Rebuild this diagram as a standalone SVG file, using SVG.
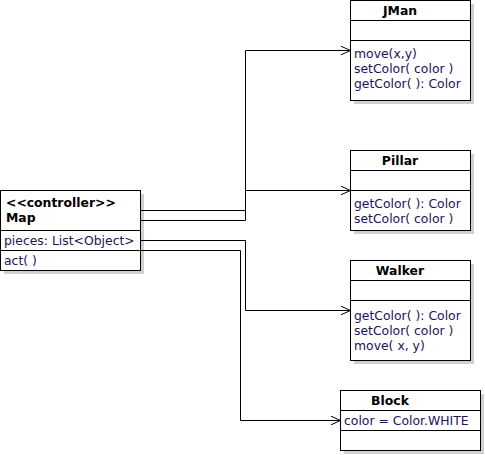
<svg xmlns="http://www.w3.org/2000/svg" width="485" height="455" viewBox="0 0 485 455">
<defs>
<marker id="arr" markerWidth="12" markerHeight="12" refX="10" refY="5" orient="auto" markerUnits="userSpaceOnUse">
<path d="M0,0.5 L10,5 L0,9.5" fill="none" stroke="#000" stroke-width="1"/>
</marker>
</defs>
<style>
.box{fill:#fff;stroke:#000;stroke-width:1}
.sh{fill:#d0d0d0}
.ln{stroke:#000;stroke-width:1}
.t{font-family:"DejaVu Sans",sans-serif;font-size:12.4px;fill:#22125a}
.b{font-family:"DejaVu Sans",sans-serif;font-size:12.4px;font-weight:bold;fill:#000}
.c{fill:none;stroke:#000;stroke-width:1}
</style>
<rect width="485" height="455" fill="#fff"/>
<g id="Map">
<rect class="sh" x="4" y="194" width="140" height="80"/>
<rect class="box" x="0.5" y="190.5" width="140" height="80"/>
<line class="ln" x1="0.5" y1="230.5" x2="140.5" y2="230.5"/>
<line class="ln" x1="0.5" y1="250.5" x2="140.5" y2="250.5"/>
<text class="b" x="6" y="207">&lt;&lt;controller&gt;&gt;</text>
<text class="b" x="6" y="222">Map</text>
<text class="t" x="4" y="245">pieces: List&lt;Object&gt;</text>
<text class="t" x="4" y="265">act( )</text>
</g>
<g id="JMan">
<rect class="sh" x="354" y="4" width="120" height="100"/>
<rect class="box" x="350.5" y="0.5" width="120" height="100"/>
<line class="ln" x1="350.5" y1="20.5" x2="470.5" y2="20.5"/>
<line class="ln" x1="350.5" y1="40.5" x2="470.5" y2="40.5"/>
<text class="b" x="400" y="15" text-anchor="middle">JMan</text>
<text class="t" x="354" y="58">move(x,y)</text>
<text class="t" x="354" y="73">setColor( color )</text>
<text class="t" x="354" y="88">getColor( ): Color</text>
</g>
<g id="Pillar">
<rect class="sh" x="354" y="154" width="120" height="80"/>
<rect class="box" x="350.5" y="150.5" width="120" height="80"/>
<line class="ln" x1="350.5" y1="170.5" x2="470.5" y2="170.5"/>
<line class="ln" x1="350.5" y1="190.5" x2="470.5" y2="190.5"/>
<text class="b" x="400" y="165" text-anchor="middle">Pillar</text>
<text class="t" x="354" y="208">getColor( ): Color</text>
<text class="t" x="354" y="223">setColor( color )</text>
</g>
<g id="Walker">
<rect class="sh" x="354" y="264" width="120" height="100"/>
<rect class="box" x="350.5" y="260.5" width="120" height="100"/>
<line class="ln" x1="350.5" y1="280.5" x2="470.5" y2="280.5"/>
<line class="ln" x1="350.5" y1="300.5" x2="470.5" y2="300.5"/>
<text class="b" x="400" y="275" text-anchor="middle">Walker</text>
<text class="t" x="354" y="320">getColor( ): Color</text>
<text class="t" x="354" y="335">setColor( color )</text>
<text class="t" x="354" y="350">move( x, y)</text>
</g>
<g id="Block">
<rect class="sh" x="344" y="394" width="140" height="60"/>
<rect class="box" x="340.5" y="390.5" width="140" height="60"/>
<line class="ln" x1="340.5" y1="410.5" x2="480.5" y2="410.5"/>
<line class="ln" x1="340.5" y1="430.5" x2="480.5" y2="430.5"/>
<text class="b" x="390" y="405" text-anchor="middle">Block</text>
<text class="t" x="344" y="425">color = Color.WHITE</text>
</g>
<g id="connectors">
<polyline class="c" points="140.5,210.5 245.5,210.5 245.5,50.5 350.5,50.5" marker-end="url(#arr)"/>
<polyline class="c" points="140.5,220.5 245.5,220.5 245.5,190.5 350.5,190.5" marker-end="url(#arr)"/>
<polyline class="c" points="140.5,240.5 245.5,240.5 245.5,310.5 350.5,310.5" marker-end="url(#arr)"/>
<polyline class="c" points="140.5,250.5 240.5,250.5 240.5,420.5 340.5,420.5" marker-end="url(#arr)"/>
</g>
</svg>
